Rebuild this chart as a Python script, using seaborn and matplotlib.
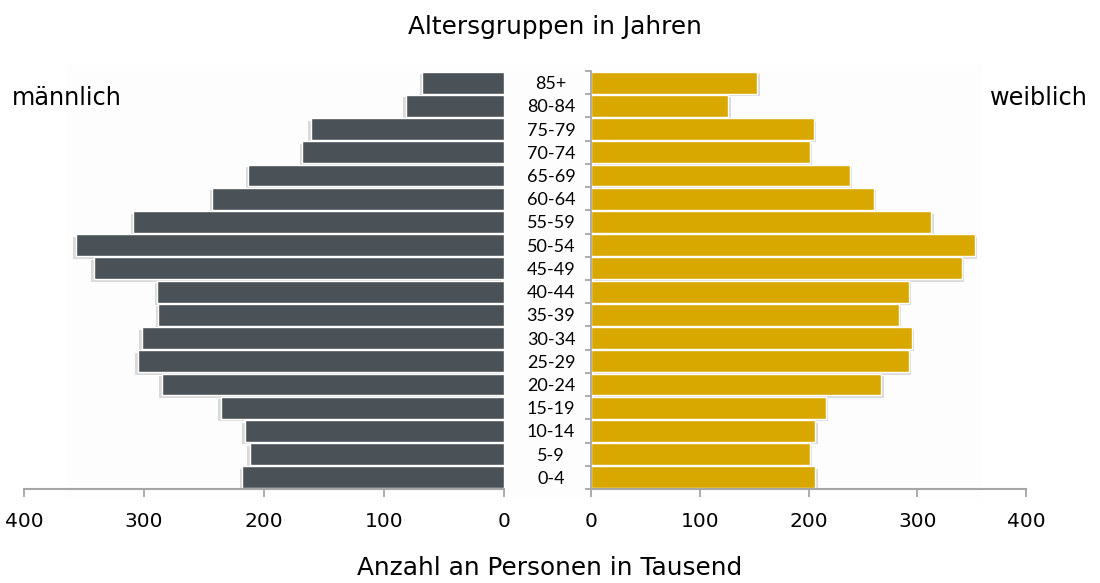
import matplotlib
matplotlib.use("Agg")
import matplotlib.pyplot as plt
import matplotlib.patheffects as pe
from matplotlib.patches import Rectangle
from matplotlib.ticker import FixedLocator
import seaborn as sns
import pandas as pd
import numpy as np

# Age groups, oldest on top
age_groups = ["85+", "80-84", "75-79", "70-74", "65-69", "60-64", "55-59", "50-54",
              "45-49", "40-44", "35-39", "30-34", "25-29", "20-24", "15-19",
              "10-14", "5-9", "0-4"]

# Persons in thousands
male = [68, 82, 161, 168, 213, 243, 309, 357, 342, 289, 288, 302, 305, 285, 236, 216, 212, 218]
female = [153, 126, 205, 201, 238, 260, 313, 353, 341, 292, 283, 295, 292, 267, 216, 206, 201, 206]

x_ticks = [0, 100, 200, 300, 400]

male_color = "#4A5157"
female_color = "#D9A800"
spine_color = "#A6A6A6"

sns.set_theme(style="white")
plt.rcParams["font.family"] = ["DejaVu Sans"]

W, H = 1100, 583
fig = plt.figure(figsize=(W / 100, H / 100), dpi=100)

# faint plot-area backdrop
fig.patches.append(Rectangle((65 / W, 1 - 498 / H), (982 - 65) / W, (498 - 65) / H,
                             transform=fig.transFigure, facecolor="#FDFDFD",
                             edgecolor="none", zorder=-5))

bottom = 1 - 489 / H
height = (489 - 71) / H
ax_m = fig.add_axes([24 / W, bottom, 480 / W, height])
ax_f = fig.add_axes([591 / W, bottom, 435 / W, height])
ax_m.set_zorder(2)
ax_f.set_zorder(2)

df_m = pd.DataFrame({"Altersgruppe": age_groups, "Anzahl": male})
df_f = pd.DataFrame({"Altersgruppe": age_groups, "Anzahl": female})

sns.barplot(data=df_m, x="Anzahl", y="Altersgruppe", order=age_groups, orient="h",
            color=male_color, saturation=1, width=0.94, edgecolor="white",
            linewidth=1.0, ax=ax_m)
sns.barplot(data=df_f, x="Anzahl", y="Altersgruppe", order=age_groups, orient="h",
            color=female_color, saturation=1, width=0.94, edgecolor="white",
            linewidth=1.0, ax=ax_f)

shadow_m = [pe.SimplePatchShadow(offset=(-1.8, -1.8), shadow_rgbFace="#8A8A8A", alpha=0.3),
            pe.Normal()]
shadow_f = [pe.SimplePatchShadow(offset=(1.8, -1.8), shadow_rgbFace="#8A8A8A", alpha=0.3),
            pe.Normal()]
for p in ax_m.patches:
    p.set_path_effects(shadow_m)
for p in ax_f.patches:
    p.set_path_effects(shadow_f)

n = len(age_groups)
for ax in (ax_m, ax_f):
    ax.set_facecolor("none")
    ax.patch.set_alpha(0)
    ax.set_ylim(n - 0.5, -0.5)
    ax.set_xticks(x_ticks)
    ax.set_xticklabels([str(t) for t in x_ticks], fontsize=14.5, color="black")
    ax.set_xlabel("")
    ax.set_ylabel("")
    for s in ("top", "right", "left"):
        ax.spines[s].set_visible(False)
    ax.spines["bottom"].set_color(spine_color)
    ax.spines["bottom"].set_linewidth(1.5)
    ax.tick_params(axis="x", which="major", direction="out", length=5.5, width=1.3,
                   color=spine_color, pad=11, bottom=True)

ax_m.set_xlim(400, 0)
ax_f.set_xlim(0, 400)

ax_m.tick_params(axis="y", left=False, labelleft=False)
ax_m.set_yticks([])

# right panel: category axis with tick marks between the groups
ax_f.spines["left"].set_visible(True)
ax_f.spines["left"].set_color(spine_color)
ax_f.spines["left"].set_linewidth(1.3)
ax_f.set_yticks(np.arange(n))
ax_f.set_yticklabels(age_groups)
ax_f.yaxis.set_minor_locator(FixedLocator(np.arange(n + 1) - 0.5))
ax_f.tick_params(axis="y", which="major", left=True, length=0, pad=28.8)
ax_f.tick_params(axis="y", which="minor", left=True, length=4.5, width=1.3,
                 color=spine_color)
for lbl in ax_f.get_yticklabels():
    lbl.set_horizontalalignment("center")
    lbl.set_fontfamily(["Lato", "DejaVu Sans"])
    lbl.set_fontsize(13)
    lbl.set_color("black")

fig.text(555 / W, 1 - 27 / H, "Altersgruppen in Jahren", ha="center", va="center",
         fontsize=17.8, color="black")
fig.text(67 / W, 1 - 98 / H, "männlich", ha="center", va="center", fontsize=17.3,
         color="black")
fig.text(1039 / W, 1 - 98 / H, "weiblich", ha="center", va="center", fontsize=17.3,
         color="black")
fig.text(550 / W, 1 - 568 / H, "Anzahl an Personen in Tausend", ha="center",
         va="center", fontsize=17.8, color="black")

fig.savefig("out.png", dpi=100, facecolor="white")
